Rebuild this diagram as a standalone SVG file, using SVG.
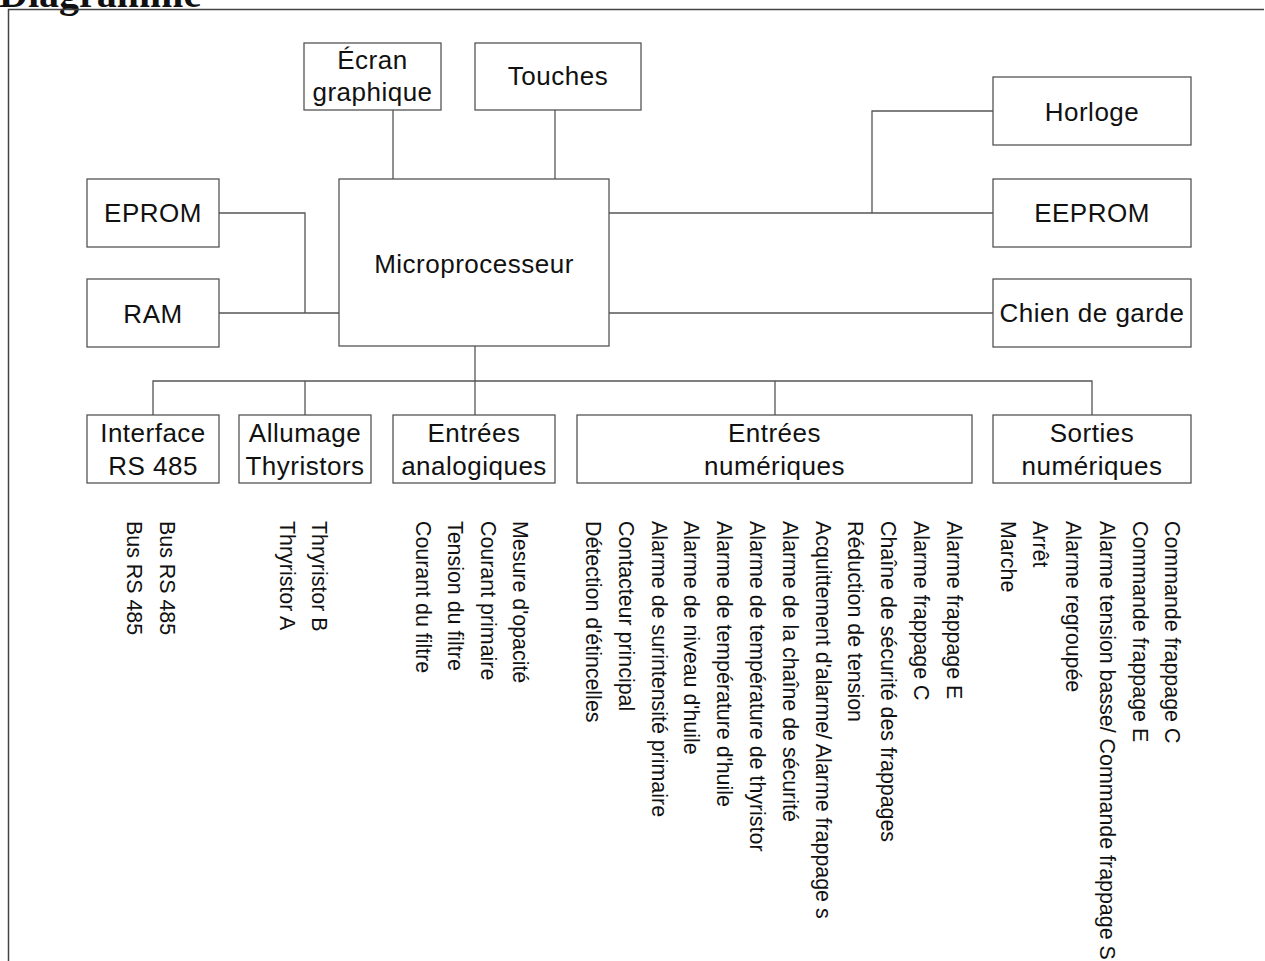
<svg xmlns="http://www.w3.org/2000/svg" width="1265" height="961" viewBox="0 0 1265 961">
<style>
.box{fill:#fff;stroke:#555;stroke-width:1.3}
.ln{fill:none;stroke:#555;stroke-width:1.3}
.lbl{font-family:"Liberation Sans",Arial,sans-serif;font-size:26px;letter-spacing:0.5px;text-anchor:middle;fill:#111}
.v{font-family:"Liberation Sans",Arial,sans-serif;font-size:21.4px;fill:#111}
.title{font-family:"Liberation Serif","Times New Roman",serif;font-size:40px;font-weight:bold;fill:#111}
</style>
<rect width="1265" height="961" fill="#fff"/>
<text class="title" x="-1" y="7">Diagramme</text>
<path d="M8.5,961 V9.5 H1264" fill="none" stroke="#444" stroke-width="1.5"/>
<g id="connectors">
<path class="ln" d="M393,110 V179"/>
<path class="ln" d="M555,110 V179"/>
<path class="ln" d="M219,213 H305 V313"/>
<path class="ln" d="M219,313 H339"/>
<path class="ln" d="M609,213 H993"/>
<path class="ln" d="M872,213 V111 H993"/>
<path class="ln" d="M609,313 H993"/>
<path class="ln" d="M475,346 V415"/>
<path class="ln" d="M153,415 V381 H1092 V415"/>
<path class="ln" d="M305,381 V415"/>
<path class="ln" d="M775,381 V415"/>
</g>
<g id="ecran"><rect class="box" x="304" y="43" width="137" height="67"/><text class="lbl" x="372.5" y="69">Écran</text><text class="lbl" x="372.5" y="101">graphique</text></g>
<g id="touches"><rect class="box" x="475" y="43" width="166" height="67"/><text class="lbl" x="558" y="85">Touches</text></g>
<g id="micro"><rect class="box" x="339" y="179" width="270" height="167"/><text class="lbl" x="474" y="273">Microprocesseur</text></g>
<g id="eprom"><rect class="box" x="87" y="179" width="132" height="68"/><text class="lbl" x="153" y="222">EPROM</text></g>
<g id="ram"><rect class="box" x="87" y="279" width="132" height="68"/><text class="lbl" x="153" y="323">RAM</text></g>
<g id="horloge"><rect class="box" x="993" y="77" width="198" height="68"/><text class="lbl" x="1092" y="121">Horloge</text></g>
<g id="eeprom"><rect class="box" x="993" y="179" width="198" height="68"/><text class="lbl" x="1092" y="222">EEPROM</text></g>
<g id="chien"><rect class="box" x="993" y="279" width="198" height="68"/><text class="lbl" x="1092" y="322">Chien de garde</text></g>
<g id="interface"><rect class="box" x="87" y="415" width="132" height="68"/><text class="lbl" x="153" y="442">Interface</text><text class="lbl" x="153" y="475">RS 485</text>
<text class="v" transform="translate(159.5,521) rotate(90)">Bus RS 485</text>
<text class="v" transform="translate(127,521) rotate(90)">Bus RS 485</text></g>
<g id="allumage"><rect class="box" x="239" y="415" width="132" height="68"/><text class="lbl" x="305" y="442">Allumage</text><text class="lbl" x="305" y="475">Thyristors</text>
<text class="v" transform="translate(312,521) rotate(90)">Thryristor B</text>
<text class="v" transform="translate(280,521) rotate(90)">Thryristor A</text></g>
<g id="analog"><rect class="box" x="393" y="415" width="162" height="68"/><text class="lbl" x="474" y="442">Entrées</text><text class="lbl" x="474" y="475">analogiques</text>
<text class="v" transform="translate(513,521) rotate(90)">Mesure d'opacité</text>
<text class="v" transform="translate(480.5,521) rotate(90)">Courant primaire</text>
<text class="v" transform="translate(448,521) rotate(90)">Tension du filtre</text>
<text class="v" transform="translate(416,521) rotate(90)">Courant du filtre</text></g>
<g id="numin"><rect class="box" x="577" y="415" width="395" height="68"/><text class="lbl" x="774.5" y="442">Entrées</text><text class="lbl" x="774.5" y="475">numériques</text>
<text class="v" transform="translate(946.7,521) rotate(90)">Alarme frappage E</text>
<text class="v" transform="translate(913.9,521) rotate(90)">Alarme frappage C</text>
<text class="v" transform="translate(881.1,521) rotate(90)">Chaîne de sécurité des frappages</text>
<text class="v" transform="translate(848.3,521) rotate(90)">Réduction de tension</text>
<text class="v" transform="translate(815.5,521) rotate(90)">Acquittement d'alarme/ Alarme frappage s</text>
<text class="v" transform="translate(782.7,521) rotate(90)">Alarme de la chaîne de sécurité</text>
<text class="v" transform="translate(749.9,521) rotate(90)">Alarme de température de thyristor</text>
<text class="v" transform="translate(717.1,521) rotate(90)">Alarme de température d'huile</text>
<text class="v" transform="translate(684.3,521) rotate(90)">Alarme de niveau d'huile</text>
<text class="v" transform="translate(651.5,521) rotate(90)">Alarme de surintensité primaire</text>
<text class="v" transform="translate(618.7,521) rotate(90)">Contacteur principal</text>
<text class="v" transform="translate(585.9,521) rotate(90)">Détection d'étincelles</text></g>
<g id="numout"><rect class="box" x="993" y="415" width="198" height="68"/><text class="lbl" x="1092" y="442">Sorties</text><text class="lbl" x="1092" y="475">numériques</text>
<text class="v" transform="translate(1165,521) rotate(90)">Commande frappage C</text>
<text class="v" transform="translate(1132.5,521) rotate(90)">Commande frappage E</text>
<text class="v" transform="translate(1099.5,521) rotate(90)">Alarme tension basse/ Commande frappage S</text>
<text class="v" transform="translate(1066,521) rotate(90)">Alarme regroupée</text>
<text class="v" transform="translate(1033.3,521) rotate(90)">Arrêt</text>
<text class="v" transform="translate(1000.7,521) rotate(90)">Marche</text></g>
</svg>
